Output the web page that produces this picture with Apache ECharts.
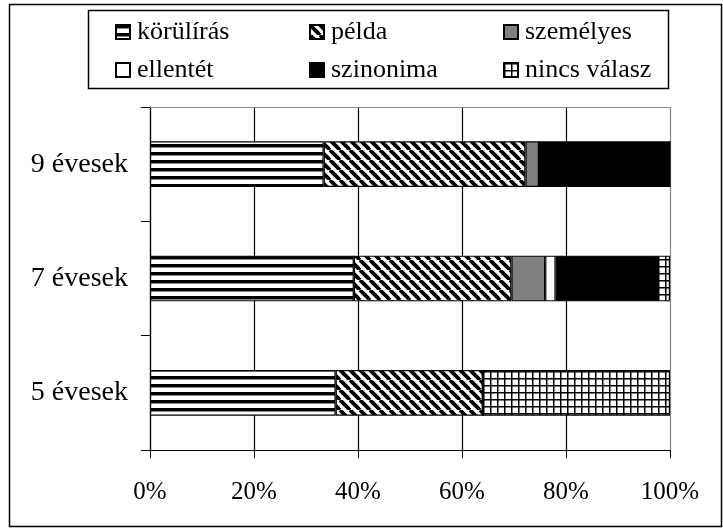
<!DOCTYPE html>
<html>
<head>
<meta charset="utf-8">
<script src="https://cdn.jsdelivr.net/npm/echarts@6/dist/echarts.min.js"></script>
<style>
html,body{margin:0;padding:0;background:#fff;}
#chart{width:723px;height:531px;}
</style>
</head>
<body>
<div id="chart"></div>
<script>
const categories = ['5 évesek', '7 évesek', '9 évesek'];
const seriesNames = ['körülírás', 'példa', 'személyes', 'ellentét', 'szinonima', 'nincs válasz'];
const korulirasData = [35.7, 39.2, 33.4];
const peldaData = [28.3, 30.3, 38.8];
const szemelyesData = [0, 6.5, 2.6];
const ellentetData = [0, 2.0, 0];
const szinonimaData = [0, 19.5, 25.2];
const nincsValaszData = [36.0, 2.5, 0];
const xTicks = [0, 20, 40, 60, 80, 100];

function tile(w, h, draw) {
  const c = document.createElement('canvas');
  c.width = w; c.height = h;
  const g = c.getContext('2d');
  g.fillStyle = '#fff'; g.fillRect(0, 0, w, h);
  draw(g);
  return { image: c, repeat: 'repeat' };
}
const hStripes = tile(8, 8, g => {
  g.fillStyle = '#000'; g.fillRect(0, 0, 8, 3);
  g.fillStyle = '#888'; g.fillRect(0, 3, 8, 1);
});
const diag = tile(10, 10, g => {
  g.strokeStyle = '#000'; g.lineWidth = 3.8;
  for (const k of [-10, 0, 10]) {
    g.beginPath(); g.moveTo(k, 0); g.lineTo(k + 10, 10); g.stroke();
  }
});
const gridPat = tile(7, 7, g => {
  g.fillStyle = '#000';
  g.fillRect(0, 0, 1.5, 7);
  g.fillRect(0, 0, 7, 1.5);
});
const fills = [hStripes, diag, '#808080', '#ffffff', '#000000', gridPat];
const dataArrays = [korulirasData, peldaData, szemelyesData, ellentetData, szinonimaData, nincsValaszData];

const font = 'Liberation Serif';
const legendPos = [
  [115, 32], [309, 32], [503, 32],
  [115, 70], [309, 70], [503, 70]
];
const legends = seriesNames.map((n, i) => ({
  data: [n],
  left: legendPos[i][0],
  top: legendPos[i][1] - 8,
  orient: 'horizontal',
  icon: 'rect',
  itemWidth: 14,
  itemHeight: 14,
  itemGap: 0,
  selectedMode: false,
  padding: 0,
  formatter: () => '',
  textStyle: { fontSize: 1 }
}));
const legendTitles = seriesNames.map((n, i) => ({
  text: n,
  left: legendPos[i][0] + 22,
  top: legendPos[i][1] - 15,
  padding: 0,
  textStyle: { fontFamily: 'Liberation Serif', fontSize: 26, fontWeight: 'normal', color: '#000', lineHeight: 30 }
}));

const chart = echarts.init(document.getElementById('chart'), null, { renderer: 'canvas' });
chart.setOption({
  animation: false,
  backgroundColor: '#fff',
  textStyle: { fontFamily: font },
  title: legendTitles,
  legend: legends,
  graphic: [
    { type: 'rect', shape: { x: 9.5, y: 4.5, width: 712, height: 522 }, style: { fill: 'none', stroke: '#000', lineWidth: 1.5 }, z: -10 },
    { type: 'rect', shape: { x: 88.5, y: 10.5, width: 580, height: 78 }, style: { fill: '#fff', stroke: '#000', lineWidth: 1.5 }, z: -5 }
  ],
  grid: { left: 150, right: 53, top: 107, bottom: 81, containLabel: false },
  xAxis: [{
    type: 'value', min: 0, max: 100, interval: 20,
    axisLine: { show: true, lineStyle: { color: '#000', width: 1.2 } },
    axisTick: { show: true, length: 8, lineStyle: { color: '#000' } },
    axisLabel: { formatter: '{value}%', fontFamily: font, fontSize: 25, color: '#000', margin: 30 },
    splitLine: { show: true, lineStyle: { color: ['#000', '#000', '#000', '#000', '#000', '#888'], width: 1.2 } }
  }, {
    type: 'value', position: 'top', min: 0, max: 100, interval: 20,
    axisLine: { show: true, lineStyle: { color: '#888', width: 1.2 } },
    axisTick: { show: false }, axisLabel: { show: false }, splitLine: { show: false }
  }],
  yAxis: {
    type: 'category', data: categories,
    axisLine: { show: true, lineStyle: { color: '#000', width: 1.2 } },
    axisTick: { show: true, length: 9, lineStyle: { color: '#000' } },
    axisLabel: { fontFamily: font, fontSize: 28, color: '#000', margin: 22 }
  },
  series: seriesNames.map((n, i) => ({
    name: n, type: 'bar', stack: 'total', barWidth: '40%',
    data: dataArrays[i],
    itemStyle: { color: fills[i], borderColor: '#000', borderWidth: 1.2 }
  }))
});
</script>
</body>
</html>
